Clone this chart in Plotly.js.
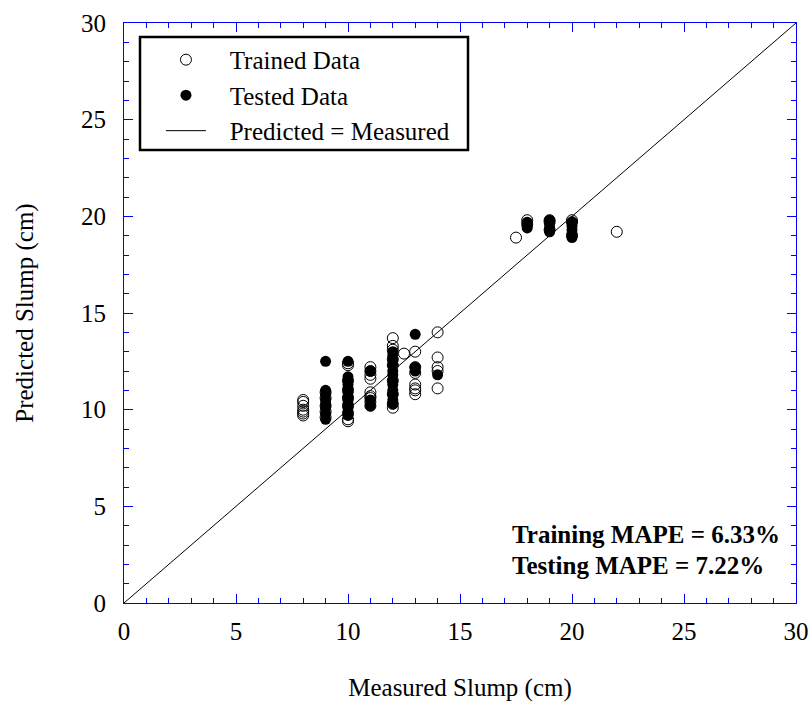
<!DOCTYPE html>
<html>
<head>
<meta charset="utf-8">
<script src="https://cdn.plot.ly/plotly-3.0.1.min.js"></script>
<style>html,body{margin:0;padding:0;background:#fff;}</style>
</head>
<body>
<div id="chart" style="width:812px;height:704px;"></div>
<script>
// Trained data (open circles)
const trainedX = [
  8,8,8,8,8,8,8,
  9,9,9,9,9,
  10,10,10,10,10,10,10,10,10,
  11,11,11,11,11,11,11,11,11,
  12,12,12,12,12,12,12,12,12,
  12.5,
  13,13,13,13,13,13,13,
  14,14,14,14,14,
  17.5,
  18,18,
  19,19,19,
  20,20,20,
  22
];
const trainedY = [
  10.5,10.4,10.2,10.0,9.9,9.8,9.7,
  10.9,10.6,10.2,9.9,9.6,
  12.4,12.3,11.5,11.0,10.6,10.2,9.8,9.5,9.4,
  12.2,12.0,11.8,11.6,10.9,10.7,10.6,10.4,10.2,
  13.7,13.3,13.1,12.6,12.3,11.5,10.8,10.3,10.1,
  12.9,
  13.0,12.2,11.9,11.3,11.1,11.0,10.8,
  14.0,12.7,12.2,12.0,11.1,
  18.9,
  19.8,19.6,
  19.8,19.7,19.3,
  19.8,19.7,19.0,
  19.2
];
// Tested data (filled circles)
const testedX = [
  9,9,9,9,9,9,9,9,
  10,10,10,10,10,10,10,10,10,10,10,10,
  11,11,11,
  12,12,12,12,12,12,12,12,12,12,12,12,
  13,13,13,
  14,
  18,18,18,
  19,19,19,19,19,
  20,20,20,20,20,20
];
const testedY = [
  12.5,11.0,10.8,10.5,10.3,10.1,9.8,9.5,
  12.5,11.7,11.5,11.3,11.1,10.9,10.7,10.5,10.3,10.1,9.9,9.7,
  12.0,10.5,10.2,
  13.0,12.8,12.6,12.3,12.0,11.8,11.5,11.3,11.0,10.8,10.5,10.3,
  13.9,12.2,12.0,
  11.8,
  19.7,19.5,19.4,
  19.8,19.6,19.4,19.3,19.2,
  19.7,19.5,19.3,19.1,19.0,18.9
];
const lineX = [0, 30];
const lineY = [0, 30];
const legendNames = ['Trained Data', 'Tested Data', 'Predicted = Measured'];
const mapeTexts = ['Training MAPE = 6.33%', 'Testing MAPE = 7.22%'];

const FONT = '"Liberation Serif", "Times New Roman", serif';
const FS = 25;
const sp = '\u00a0\u00a0\u00a0';

const traces = [
  {x: trainedX, y: trainedY, mode: 'markers', type: 'scatter', name: sp + legendNames[0],
   marker: {symbol: 'circle-open', size: 11, color: '#000', line: {width: 1, color: '#000'}}},
  {x: testedX, y: testedY, mode: 'markers', type: 'scatter', name: sp + legendNames[1],
   marker: {symbol: 'circle', size: 11, color: '#000'}},
  {x: lineX, y: lineY, mode: 'lines', type: 'scatter', name: sp + legendNames[2],
   line: {color: '#000', width: 1}}
];

const axisCommon = {
  range: [0, 30], dtick: 5, tick0: 0, ticks: 'inside', ticklen: 9, tickwidth: 1,
  tickcolor: 'blue', showline: true, linecolor: 'blue', linewidth: 1, mirror: 'allticks',
  showgrid: false, zeroline: false, fixedrange: true,
  tickfont: {family: FONT, size: FS, color: '#000'},
  minor: {dtick: 1, ticks: 'inside', ticklen: 5, tickcolor: 'blue', tickwidth: 1, showgrid: false}
};

const layout = {
  width: 812, height: 704,
  margin: {l: 124, r: 16, t: 23, b: 101},
  paper_bgcolor: '#fff', plot_bgcolor: '#fff',
  font: {family: FONT, size: FS, color: '#000'},
  showlegend: true,
  legend: {x: 0.055, y: 0.976, xanchor: 'left', yanchor: 'top', bgcolor: 'rgba(0,0,0,0)',
           borderwidth: 0, font: {family: FONT, size: FS, color: '#000'}, itemwidth: 40,
           tracegroupgap: 0},
  xaxis: Object.assign({}, axisCommon, {
    ticklabelstandoff: 6,
    title: {text: 'Measured Slump (cm)', font: {family: FONT, size: FS, color: '#000'}, standoff: 34}
  }),
  yaxis: Object.assign({}, axisCommon, {
    ticklabelstandoff: 12,
    title: {text: 'Predicted Slump (cm)', font: {family: FONT, size: FS, color: '#000'}, standoff: 40}
  }),
  shapes: [
    {type: 'rect', xref: 'paper', yref: 'paper', x0: (140-124)/672, x1: (468-124)/672,
     y0: (603-150)/580, y1: (603-37)/580, line: {color: '#000', width: 2.5}, fillcolor: 'rgba(0,0,0,0)'}
  ],
  annotations: [
    {xref: 'paper', yref: 'paper', x: (510-124)/672, y: (603-534)/580, xanchor: 'left', yanchor: 'middle',
     text: '<b>' + mapeTexts[0] + '</b>', showarrow: false, font: {family: FONT, size: FS, color: '#000'}},
    {xref: 'paper', yref: 'paper', x: (510-124)/672, y: (603-565)/580, xanchor: 'left', yanchor: 'middle',
     text: '<b>' + mapeTexts[1] + '</b>', showarrow: false, font: {family: FONT, size: FS, color: '#000'}}
  ]
};

Plotly.newPlot('chart', traces, layout, {displayModeBar: false, staticPlot: true});
</script>
</body>
</html>
